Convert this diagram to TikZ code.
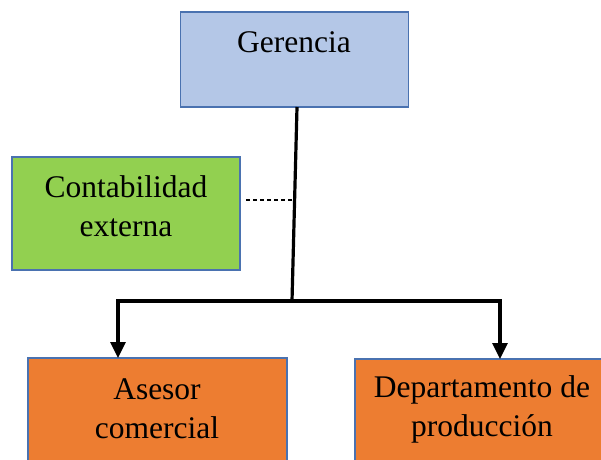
\documentclass[tikz,border=0pt]{standalone}
\usepackage{fontspec}
\setmainfont{Liberation Serif}
\usetikzlibrary{arrows.meta}
\definecolor{boxline}{HTML}{4A72B0}
\definecolor{gerfill}{HTML}{B4C7E7}
\definecolor{contfill}{HTML}{92D050}
\definecolor{orgfill}{HTML}{ED7D31}
\tikzset{
  unitbox/.style={draw=boxline, line width=1.3pt, inner sep=0pt, outer sep=0pt},
  label/.style={font=\fontsize{31.5}{39}\selectfont, align=center, inner sep=0pt},
  link/.style={line width=3.2pt},
  tip/.style={-{Triangle[width=15pt,length=16pt]}}
}
\begin{document}
\begin{tikzpicture}[x=1pt,y=-1pt]
\useasboundingbox (0,0) rectangle (601,459);
% boxes
\node[unitbox, fill=gerfill, minimum width=228pt, minimum height=95pt] (ger) at (294.5,59.5) {};
\node[unitbox, fill=contfill, minimum width=228pt, minimum height=113pt] (cont) at (126,213.5) {};
\node[unitbox, fill=orgfill, minimum width=259pt, minimum height=120pt, anchor=north west] (ases) at (28,358) {};
\node[unitbox, fill=orgfill, minimum width=260pt, minimum height=120pt, anchor=north west] (dep) at (355,359) {};
% texts
\node[label, anchor=base] (gertext) at (294,52) {Gerencia};
\node[label] (conttext) at (126,206) {Contabilidad\\externa};
\node[label] (asestext) at (157,409) {Asesor\\comercial};
\node[label] (deptext) at (482,409) {Departamento de\\producción};
% connectors
\coordinate (top) at (297,107);
\coordinate (junc) at (292,301);
\coordinate (lft) at (118,301);
\coordinate (rgt) at (500,301);
\coordinate (dashend) at (295,200);
\draw[link] (top) -- (junc);
\draw[link, tip] (junc) -- (lft) -- (lft |- ases.north);
\draw[link, tip] (junc) -- (rgt) -- (rgt |- dep.north);
\draw[line width=1.4pt, dash pattern=on 4pt off 3pt] ([xshift=6pt]cont.east |- dashend) -- (dashend);
\end{tikzpicture}
\end{document}
